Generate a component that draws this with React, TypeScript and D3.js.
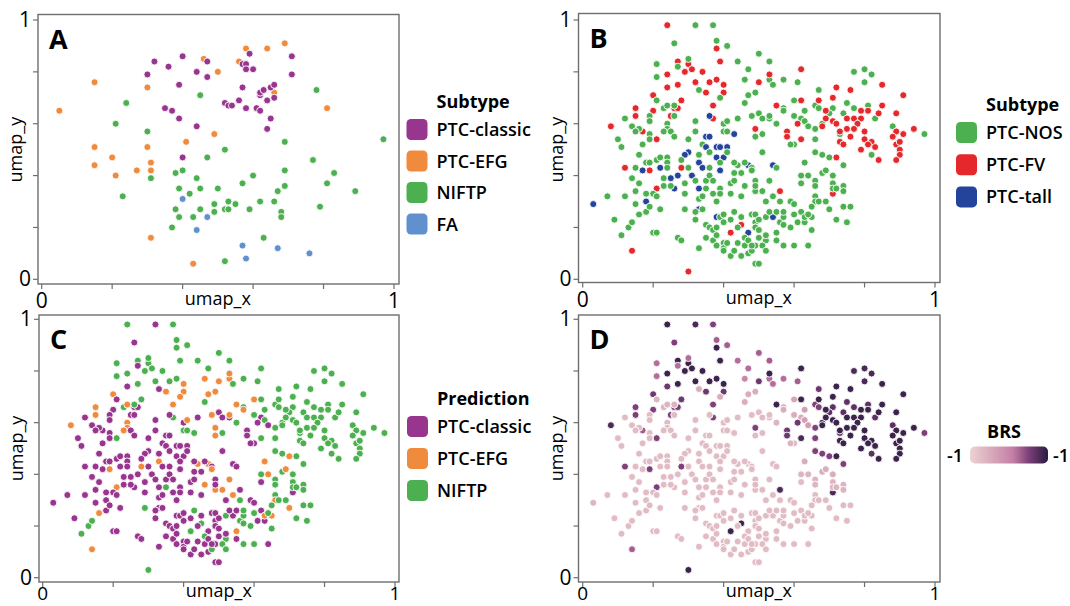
import React from "react"
import * as d3 from "d3"

const W = 1070
const H = 606
const FONT = "'Open Sans', 'Noto Sans', sans-serif"

const subtypesA = ["PTC-classic", "PTC-EFG", "NIFTP", "FA"]
const subtypesAColor = ["#98358f", "#f08a3c", "#4caf50", "#6190cf"]
const subtypesB = ["PTC-NOS", "PTC-FV", "PTC-tall"]
const subtypesBColor = ["#4caf50", "#e5282b", "#24439a"]
const predictions = ["PTC-classic", "PTC-EFG", "NIFTP"]
const predictionsColor = ["#98358f", "#f08a3c", "#4caf50"]
const brsStops = [-1, 0.1, 0.5, 1]
const brsColors = ["#ecd3d1", "#c47fa6", "#7d4079", "#2a1c40"]

// cohort A: [umap_x, umap_y, subtype]
const cohortA = [
  [0.05,0.65,1],[0.15,0.76,1],[0.30,0.74,1],[0.15,0.51,1],[0.15,0.44,1],[0.20,0.47,1],[0.21,0.40,1],[0.27,0.42,1],
  [0.30,0.51,1],[0.31,0.42,1],[0.31,0.45,1],[0.31,0.16,1],[0.46,0.85,1],[0.50,0.80,1],[0.49,0.56,1],[0.41,0.53,1],
  [0.43,0.06,1],[0.56,0.84,1],[0.58,0.89,1],[0.64,0.89,1],[0.69,0.91,1],[0.66,0.72,1],[0.81,0.66,1],
  [0.32,0.84,0],[0.30,0.79,0],[0.36,0.82,0],[0.40,0.86,0],[0.39,0.75,0],[0.35,0.66,0],[0.37,0.65,0],[0.39,0.62,0],
  [0.44,0.59,0],[0.40,0.47,0],[0.44,0.80,0],[0.47,0.84,0],[0.47,0.78,0],[0.52,0.68,0],[0.53,0.67,0],[0.54,0.67,0],
  [0.56,0.69,0],[0.57,0.74,0],[0.57,0.83,0],[0.58,0.83,0],[0.58,0.81,0],[0.60,0.81,0],[0.59,0.87,0],[0.58,0.66,0],
  [0.61,0.66,0],[0.62,0.65,0],[0.62,0.71,0],[0.62,0.72,0],[0.63,0.73,0],[0.65,0.74,0],[0.66,0.75,0],[0.64,0.69,0],
  [0.66,0.70,0],[0.65,0.62,0],[0.64,0.58,0],[0.71,0.86,0],[0.71,0.79,0],
  [0.24,0.68,2],[0.21,0.60,2],[0.23,0.32,2],[0.30,0.57,2],[0.31,0.39,2],[0.37,0.20,2],[0.38,0.41,2],[0.40,0.42,2],
  [0.38,0.27,2],[0.39,0.24,2],[0.39,0.35,2],[0.42,0.33,2],[0.44,0.39,2],[0.45,0.71,2],[0.45,0.35,2],[0.45,0.27,2],
  [0.43,0.24,2],[0.47,0.47,2],[0.49,0.29,2],[0.49,0.26,2],[0.50,0.35,2],[0.52,0.50,2],[0.52,0.27,2],[0.53,0.27,2],
  [0.53,0.30,2],[0.55,0.29,2],[0.52,0.07,2],[0.57,0.37,2],[0.59,0.27,2],[0.60,0.40,2],[0.62,0.30,2],[0.63,0.16,2],
  [0.66,0.30,2],[0.67,0.34,2],[0.68,0.26,2],[0.68,0.24,2],[0.69,0.36,2],[0.69,0.42,2],[0.69,0.53,2],[0.77,0.46,2],
  [0.78,0.73,2],[0.79,0.28,2],[0.81,0.37,2],[0.83,0.41,2],[0.89,0.34,2],[0.97,0.54,2],
  [0.40,0.31,3],[0.47,0.24,3],[0.44,0.19,3],[0.57,0.13,3],[0.58,0.08,3],[0.67,0.12,3],[0.76,0.10,3],
]

// cohort B: [umap_x, umap_y, subtype, prediction, BRS]
const cohortB = [
  [0.24,0.98,1,2,.9],[0.38,0.89,1,2,.9],[0.27,0.84,1,2,.9],[0.30,0.83,1,2,.9],[0.29,0.80,1,2,.9],[0.31,0.81,1,2,.9],
  [0.34,0.80,1,2,.9],[0.24,0.79,1,2,.9],[0.39,0.84,1,2,.9],[0.32,0.76,1,2,.9],[0.36,0.76,1,2,.9],[0.38,0.77,1,2,.9],
  [0.40,0.75,1,1,.9],[0.27,0.75,1,2,.9],[0.24,0.74,1,0,.6],[0.35,0.72,1,1,.6],[0.40,0.72,1,1,.6],[0.20,0.71,1,1,.6],
  [0.28,0.69,1,2,.6],[0.26,0.66,1,0,.5],[0.27,0.66,1,0,.5],[0.37,0.67,1,1,.5],[0.15,0.66,1,1,.5],[0.20,0.65,1,0,.5],
  [0.25,0.63,1,0,.5],[0.15,0.63,1,1,.5],[0.08,0.59,1,1,.8],[0.37,0.62,1,2,.5],[0.49,0.58,1,1,.5],[0.21,0.54,1,2,.5],
  [0.50,0.76,1,1,.6],[0.17,0.57,1,0,.3],
  [0.32,0.98,0,0,.8],[0.37,0.98,0,2,.5],[0.26,0.91,0,0,.5],[0.38,0.92,0,2,.3],[0.41,0.90,0,2,.3],[0.44,0.84,0,2,.2],
  [0.30,0.85,0,2,.2],[0.27,0.82,0,0,.2],[0.21,0.83,0,2,.2],[0.21,0.78,0,2,.2],[0.47,0.81,0,2,.2],[0.46,0.77,0,1,0],
  [0.33,0.73,0,0,-.5],[0.39,0.70,0,1,-.5],[0.47,0.71,0,1,-.5],[0.49,0.72,0,1,-.5],[0.46,0.68,0,2,-.5],[0.21,0.69,0,0,-.6],
  [0.23,0.66,0,2,-.6],[0.24,0.67,0,1,-.6],[0.26,0.67,0,2,-.6],[0.19,0.63,0,0,-.7],[0.26,0.63,0,0,-.7],[0.12,0.62,0,0,-.7],
  [0.14,0.59,0,0,-.7],[0.16,0.58,0,0,-.7],[0.19,0.61,0,0,-.7],[0.24,0.60,0,1,-.7],[0.24,0.58,0,1,-.7],[0.40,0.60,0,0,-.7],
  [0.41,0.61,0,1,-.7],[0.44,0.62,0,0,-.7],[0.48,0.63,0,1,-.7],[0.50,0.64,0,0,-.7],[0.32,0.61,0,0,-.7],[0.10,0.54,0,0,-.7],
  [0.15,0.57,0,0,-.7],[0.19,0.56,0,0,-.7],[0.23,0.57,0,1,-.7],[0.25,0.57,0,0,-.7],[0.26,0.55,0,0,-.7],[0.30,0.54,0,0,-.7],
  [0.32,0.57,0,0,-.7],[0.40,0.57,0,2,-.7],[0.41,0.57,0,2,-.7],[0.34,0.52,0,0,-.7],[0.49,0.55,0,1,-.7],[0.11,0.51,0,0,-.7],
  [0.17,0.52,0,0,-.7],[0.19,0.54,0,0,-.7],
  [0.36,0.63,2,0,-.7],[0.43,0.56,2,2,-.7],[0.35,0.55,2,0,-.7],[0.36,0.55,2,0,-.7],[0.35,0.51,2,0,-.7],[0.38,0.51,2,0,-.7],
  [0.39,0.51,2,0,-.7],[0.41,0.51,2,0,-.7],
  [0.12,0.43,1,0,.5],[0.19,0.42,1,1,.5],[0.28,0.43,1,1,.5],[0.21,0.35,1,1,.5],[0.14,0.11,1,1,.3],[0.30,0.03,1,2,.9],
  [0.42,0.18,1,2,.9],[0.45,0.21,1,2,.9],
  [0.03,0.29,2,0,-.6],[0.17,0.42,2,0,-.7],[0.22,0.43,2,0,-.7],[0.27,0.40,2,0,-.7],[0.25,0.39,2,0,-.7],[0.30,0.49,2,0,-.7],
  [0.29,0.48,2,0,-.7],[0.33,0.45,2,1,-.7],[0.31,0.40,2,0,-.7],[0.26,0.35,2,0,-.7],[0.33,0.35,2,0,-.7],[0.34,0.43,2,0,-.7],
  [0.39,0.42,2,0,-.7],[0.38,0.47,2,0,-.7],[0.40,0.47,2,0,-.7],[0.47,0.44,2,1,-.7],[0.33,0.27,2,0,-.7],[0.38,0.24,2,0,-.7],
  [0.47,0.18,2,0,-.7],[0.18,0.30,2,0,-.7],
  [0.07,0.32,0,0,-.7],[0.09,0.23,0,0,-.7],[0.11,0.17,0,2,-.7],[0.12,0.32,0,0,-.7],[0.13,0.20,0,2,-.7],[0.14,0.22,0,2,-.7],
  [0.15,0.29,0,0,-.7],[0.16,0.25,0,1,-.7],[0.18,0.26,0,0,-.7],[0.19,0.28,0,0,-.7],[0.20,0.18,0,0,-.7],[0.21,0.18,0,0,-.7],
  [0.16,0.37,0,0,-.7],[0.15,0.34,0,0,-.7],[0.18,0.33,0,0,-.7],[0.20,0.33,0,0,-.7],[0.21,0.32,0,0,-.7],[0.22,0.27,0,0,-.7],
  [0.23,0.36,0,0,-.7],[0.14,0.39,0,0,-.7],[0.15,0.43,0,0,-.7],[0.16,0.48,0,0,-.7],[0.18,0.45,0,0,-.7],[0.19,0.45,0,0,-.7],
  [0.21,0.46,0,0,-.7],[0.22,0.47,0,0,-.7],[0.24,0.47,0,0,-.7],[0.24,0.45,0,0,-.7],[0.23,0.39,0,0,-.7],[0.24,0.43,0,0,-.7],
  [0.25,0.36,0,0,-.7],[0.27,0.16,0,0,-.7],[0.28,0.15,0,0,-.7],[0.29,0.27,0,2,-.7],[0.29,0.33,0,0,-.7],[0.32,0.23,0,0,-.7],
  [0.32,0.26,0,0,-.7],[0.33,0.12,0,0,-.7],[0.34,0.27,0,0,-.7],[0.35,0.38,0,0,-.7],[0.36,0.43,0,0,-.7],[0.36,0.40,0,0,-.7],
  [0.37,0.38,0,0,-.7],[0.35,0.35,0,2,-.7],[0.37,0.33,0,0,-.7],[0.38,0.30,0,0,-.7],[0.39,0.35,0,0,-.7],[0.35,0.21,0,0,-.7],
  [0.36,0.20,0,0,-.7],[0.37,0.19,0,0,-.7],[0.35,0.16,0,0,-.7],[0.37,0.15,0,0,-.7],[0.38,0.17,0,0,-.7],[0.38,0.13,0,0,-.7],
  [0.40,0.14,0,0,-.7],[0.40,0.12,0,0,-.7],[0.41,0.14,0,0,-.7],[0.42,0.09,0,0,-.7],[0.40,0.11,0,0,-.7],[0.43,0.11,0,0,-.7],
  [0.44,0.14,0,0,-.7],[0.46,0.16,0,2,-.7],[0.46,0.13,0,0,-.7],[0.45,0.09,0,0,-.7],[0.47,0.10,0,0,-.7],[0.48,0.11,0,2,-.7],
  [0.49,0.13,0,0,-.7],[0.49,0.06,0,0,-.7],[0.47,0.15,0,0,-.7],[0.39,0.24,0,0,-.7],[0.40,0.25,0,0,-.7],[0.40,0.22,0,0,-.7],
  [0.42,0.23,0,0,-.7],[0.43,0.26,0,2,-.7],[0.44,0.20,0,0,-.7],[0.45,0.24,0,0,-.7],[0.48,0.25,0,0,-.7],[0.49,0.22,0,0,-.7],
  [0.49,0.20,0,2,-.7],[0.38,0.20,0,0,-.7],[0.42,0.37,0,0,-.7],[0.42,0.33,0,0,-.7],[0.39,0.33,0,0,-.7],[0.43,0.41,0,0,-.7],
  [0.43,0.38,0,0,-.7],[0.46,0.36,0,1,-.7],[0.45,0.32,0,0,-.7],[0.48,0.43,0,0,-.7],[0.49,0.34,0,1,-.7],[0.49,0.38,0,0,-.7],
  [0.46,0.45,0,0,-.7],[0.44,0.44,0,1,-.7],[0.43,0.45,0,0,-.7],[0.41,0.49,0,0,-.7],[0.39,0.45,0,0,-.7],[0.36,0.49,0,0,-.7],
  [0.33,0.48,0,0,-.7],[0.30,0.43,0,0,-.7],[0.28,0.46,0,0,-.7],[0.32,0.38,0,0,-.7],[0.29,0.37,0,0,-.7],[0.33,0.31,0,0,-.7],
  [0.34,0.32,0,0,-.7],[0.45,0.41,0,0,-.7],
  [0.50,0.87,0,2,.3],[0.53,0.84,0,2,.3],[0.53,0.77,0,1,.2],[0.54,0.75,0,2,.2],[0.57,0.77,0,2,.2],[0.61,0.76,0,2,.3],
  [0.67,0.73,0,2,.6],[0.77,0.80,0,2,.8],[0.80,0.81,0,2,.8],[0.82,0.79,0,2,.8],[0.80,0.76,0,2,.8],[0.60,0.69,0,1,-.4],
  [0.57,0.66,0,2,-.5],[0.57,0.65,0,1,-.5],[0.63,0.65,0,2,-.3],[0.66,0.67,0,2,.5],[0.67,0.66,0,2,.5],[0.60,0.63,0,2,-.5],
  [0.51,0.62,0,0,-.7],[0.53,0.62,0,0,-.7],[0.53,0.63,0,1,-.7],[0.55,0.60,0,2,-.6],[0.62,0.62,0,0,-.5],[0.63,0.61,0,2,-.3],
  [0.64,0.59,0,0,-.3],[0.66,0.58,0,2,.5],[0.68,0.60,0,2,.7],[0.71,0.66,0,2,.7],[0.70,0.64,0,2,.7],[0.74,0.64,0,2,.7],
  [0.75,0.68,0,2,.7],[0.77,0.66,0,2,.7],[0.81,0.67,0,2,.7],[0.83,0.62,0,2,.7],[0.88,0.59,0,2,.7],[0.97,0.56,0,2,.5],
  [0.51,0.56,0,2,-.7],[0.60,0.52,0,0,-.6],[0.66,0.54,0,2,.5],[0.73,0.56,0,2,.7],
  [0.62,0.81,1,2,.9],[0.53,0.79,1,1,.9],[0.72,0.74,1,2,.9],[0.76,0.73,1,2,.9],[0.85,0.75,1,2,.9],[0.91,0.71,1,2,.9],
  [0.62,0.69,1,2,.9],[0.67,0.69,1,2,.9],[0.71,0.70,1,2,.9],[0.55,0.67,1,1,.9],[0.69,0.65,1,2,.9],[0.71,0.61,1,2,.9],
  [0.72,0.60,1,2,.9],[0.69,0.62,1,2,.9],[0.68,0.59,1,2,.9],[0.75,0.62,1,2,.9],[0.77,0.62,1,2,.9],[0.79,0.62,1,2,.9],
  [0.78,0.60,1,2,.9],[0.79,0.65,1,2,.9],[0.81,0.65,1,2,.9],[0.84,0.64,1,2,.9],[0.85,0.67,1,2,.9],[0.89,0.64,1,2,.9],
  [0.61,0.60,1,0,.6],[0.58,0.57,1,0,.6],[0.58,0.55,1,0,.6],[0.62,0.54,1,2,.8],[0.75,0.58,1,2,.9],[0.77,0.58,1,2,.9],
  [0.80,0.57,1,2,.9],[0.73,0.57,1,2,.9],[0.76,0.55,1,2,.9],[0.73,0.53,1,2,.9],[0.74,0.52,1,2,.9],[0.80,0.54,1,2,.9],
  [0.82,0.53,1,2,.9],[0.81,0.52,1,2,.9],[0.79,0.50,1,2,.9],[0.83,0.51,1,2,.9],[0.89,0.57,1,2,.9],[0.88,0.55,1,2,.9],
  [0.91,0.56,1,2,.9],[0.94,0.58,1,2,.9],[0.89,0.52,1,2,.9],[0.90,0.53,1,2,.9],
  [0.72,0.47,1,2,.9],[0.84,0.46,1,2,.9],[0.90,0.50,1,2,.9],[0.90,0.48,1,2,.9],[0.89,0.46,1,2,.9],[0.71,0.33,1,0,.8],
  [0.56,0.34,1,0,.8],
  [0.54,0.44,2,0,-.7],[0.54,0.24,2,0,-.7],
  [0.59,0.52,0,0,-.6],[0.51,0.49,0,0,-.7],[0.48,0.42,0,1,-.7],[0.55,0.43,0,0,-.7],[0.66,0.49,0,2,.5],[0.68,0.48,0,2,.5],
  [0.70,0.47,0,1,.5],[0.74,0.44,0,2,.5],[0.82,0.48,0,2,.7],[0.63,0.45,0,1,-.5],[0.62,0.40,0,2,-.6],[0.64,0.40,0,1,-.6],
  [0.62,0.37,0,0,-.7],[0.66,0.38,0,2,-.6],[0.66,0.36,0,2,-.6],[0.68,0.41,0,2,-.5],[0.69,0.42,0,1,-.5],[0.71,0.40,0,2,-.5],
  [0.71,0.37,0,2,-.6],[0.71,0.35,0,2,-.6],[0.72,0.35,0,2,-.6],[0.74,0.36,0,2,-.6],[0.74,0.34,0,2,-.6],[0.49,0.38,0,0,-.7],
  [0.53,0.38,0,1,-.7],[0.51,0.34,0,1,-.7],[0.49,0.36,0,0,-.7],[0.52,0.30,0,0,-.7],[0.54,0.32,0,1,-.7],[0.56,0.30,0,2,-.7],
  [0.59,0.30,0,0,-.7],[0.60,0.29,0,0,-.7],[0.66,0.32,0,2,-.7],[0.66,0.30,0,1,-.7],[0.65,0.28,0,2,-.7],[0.67,0.30,0,2,-.7],
  [0.69,0.30,0,2,-.7],[0.70,0.27,0,1,-.7],[0.74,0.28,0,2,-.7],[0.76,0.28,0,2,-.7],[0.72,0.23,0,2,-.7],[0.75,0.22,0,2,-.7],
  [0.49,0.25,0,0,-.7],[0.50,0.23,0,0,-.7],[0.52,0.24,0,2,-.7],[0.53,0.26,0,0,-.7],[0.55,0.26,0,0,-.7],[0.56,0.22,0,2,-.7],
  [0.57,0.24,0,2,-.7],[0.57,0.26,0,2,-.7],[0.60,0.25,0,2,-.7],[0.61,0.22,0,0,-.7],[0.62,0.26,0,0,-.7],[0.63,0.22,0,0,-.7],
  [0.63,0.24,0,1,-.7],[0.65,0.24,0,1,-.7],[0.64,0.25,0,2,-.7],[0.65,0.19,0,2,-.7],[0.59,0.20,0,2,-.7],[0.57,0.21,0,2,-.7],
  [0.49,0.20,0,0,-.7],[0.50,0.19,0,0,-.7],[0.50,0.16,0,0,-.7],[0.52,0.15,0,2,-.7],[0.52,0.17,0,0,-.7],[0.49,0.13,0,0,-.7],
  [0.51,0.13,0,2,-.7],[0.52,0.11,0,2,-.7],[0.55,0.18,0,1,-.7],[0.55,0.15,0,0,-.7],[0.57,0.13,0,2,-.7],[0.60,0.13,0,2,-.7],
  [0.64,0.13,0,0,-.7],[0.50,0.06,0,0,-.7],[0.48,0.13,0,0,-.7],
]

const xTicks = [0, 0.2, 0.4, 0.6, 0.8, 1]
const yTicks = [0, 0.2, 0.4, 0.6, 0.8, 1]

const brsColor = d3.scaleLinear<string>().domain(brsStops).range(brsColors)

function Panel({ frame, xr, yr, letter, points, fill, labelDy, tickSize }) {
  const x = d3.scaleLinear().domain([0, 1]).range(xr)
  const y = d3.scaleLinear().domain([0, 1]).range(yr)
  const bottom = frame.y + frame.h
  return (
    <g>
      <rect x={frame.x} y={frame.y} width={frame.w} height={frame.h} fill="white" stroke="#6e6e6e" strokeWidth={1.4} />
      {xTicks.map((t) => (
        <line key={"x" + t} x1={x(t)} x2={x(t)} y1={bottom} y2={bottom + 5} stroke="#6e6e6e" strokeWidth={1.2} />
      ))}
      {yTicks.map((t) => (
        <line key={"y" + t} x1={frame.x - 5} x2={frame.x} y1={y(t)} y2={y(t)} stroke="#6e6e6e" strokeWidth={1.2} />
      ))}
      <text x={x(0)} y={bottom + labelDy} textAnchor="middle" fontSize={tickSize}>0</text>
      <text x={x(1)} y={bottom + labelDy} textAnchor="middle" fontSize={tickSize}>1</text>
      <text x={(xr[0] + xr[1]) / 2} y={bottom + labelDy - 3} textAnchor="middle" fontSize={18}>umap_x</text>
      <text x={frame.x - 7} y={y(0) + 7} textAnchor="end" fontSize={21}>0</text>
      <text x={frame.x - 7} y={y(1) + 7} textAnchor="end" fontSize={21}>1</text>
      <text
        transform={`translate(${frame.x - 16},${(yr[0] + yr[1]) / 2}) rotate(-90)`}
        textAnchor="middle"
        fontSize={18}
      >
        umap_y
      </text>
      {points.map((d, i) => (
        <circle key={i} cx={x(d[0])} cy={y(d[1])} r={3.5} fill={fill(d)} stroke="white" strokeWidth={0.9} />
      ))}
      <text x={frame.x + 11} y={frame.y + 34} fontSize={27} fontWeight={700}>{letter}</text>
    </g>
  )
}

function Legend({ x, y, title, labels, colors, step }) {
  return (
    <g>
      <text x={x + 30} y={y} fontSize={18} fontWeight={700}>{title}</text>
      {labels.map((l, i) => (
        <g key={l} transform={`translate(${x},${y + 11 + i * step})`}>
          <rect width={21} height={21} rx={4.5} fill={colors[i]} />
          <text x={30} y={17} fontSize={18} fontWeight={600}>{l}</text>
        </g>
      ))}
    </g>
  )
}

export default function App() {
  const topY: [number, number] = [279.3, 20]
  const botY: [number, number] = [577.7, 319.3]
  return (
    <svg
      width={W}
      height={H}
      style={{ position: "absolute", left: 0, top: 0, fontFamily: FONT }}
    >
      <defs>
        <linearGradient id="brs" x1="0" x2="1" y1="0" y2="0">
          {brsStops.map((s, i) => (
            <stop key={s} offset={(s + 1) / 2} stopColor={brsColors[i]} />
          ))}
        </linearGradient>
      </defs>
      <rect width={W} height={H} fill="white" />
      <Panel
        frame={{ x: 38, y: 14.5, w: 361, h: 269.5 }}
        xr={[41.7, 394]}
        yr={topY}
        letter="A"
        points={cohortA}
        fill={(d) => subtypesAColor[d[2]]}
        labelDy={24}
        tickSize={21}
      />
      <Panel
        frame={{ x: 578.5, y: 13.5, w: 361.5, h: 269 }}
        xr={[582.7, 935]}
        yr={topY}
        letter="B"
        points={cohortB}
        fill={(d) => subtypesBColor[d[2]]}
        labelDy={24}
        tickSize={21}
      />
      <Panel
        frame={{ x: 39, y: 315, w: 360, h: 267 }}
        xr={[42.7, 395]}
        yr={botY}
        letter="C"
        points={cohortB}
        fill={(d) => predictionsColor[d[3]]}
        labelDy={18}
        tickSize={19}
      />
      <Panel
        frame={{ x: 578.5, y: 315, w: 361.5, h: 267 }}
        xr={[582.7, 935]}
        yr={botY}
        letter="D"
        points={cohortB}
        fill={(d) => brsColor(d[4])}
        labelDy={18}
        tickSize={19}
      />
      <Legend x={406.5} y={108} title="Subtype" labels={subtypesA} colors={subtypesAColor} step={31.5} />
      <Legend x={956} y={111} title="Subtype" labels={subtypesB} colors={subtypesBColor} step={32.2} />
      <Legend x={407} y={405} title="Prediction" labels={predictions} colors={predictionsColor} step={32} />
      <text x={1004} y={437.5} textAnchor="middle" fontSize={18} fontWeight={700}>BRS</text>
      <rect x={970} y={446.5} width={78} height={17} rx={5} fill="url(#brs)" />
      <text x={963} y={461.5} textAnchor="end" fontSize={18} fontWeight={600}>-1</text>
      <text x={1053} y={461.5} fontSize={18} fontWeight={600}>-1</text>
    </svg>
  )
}
